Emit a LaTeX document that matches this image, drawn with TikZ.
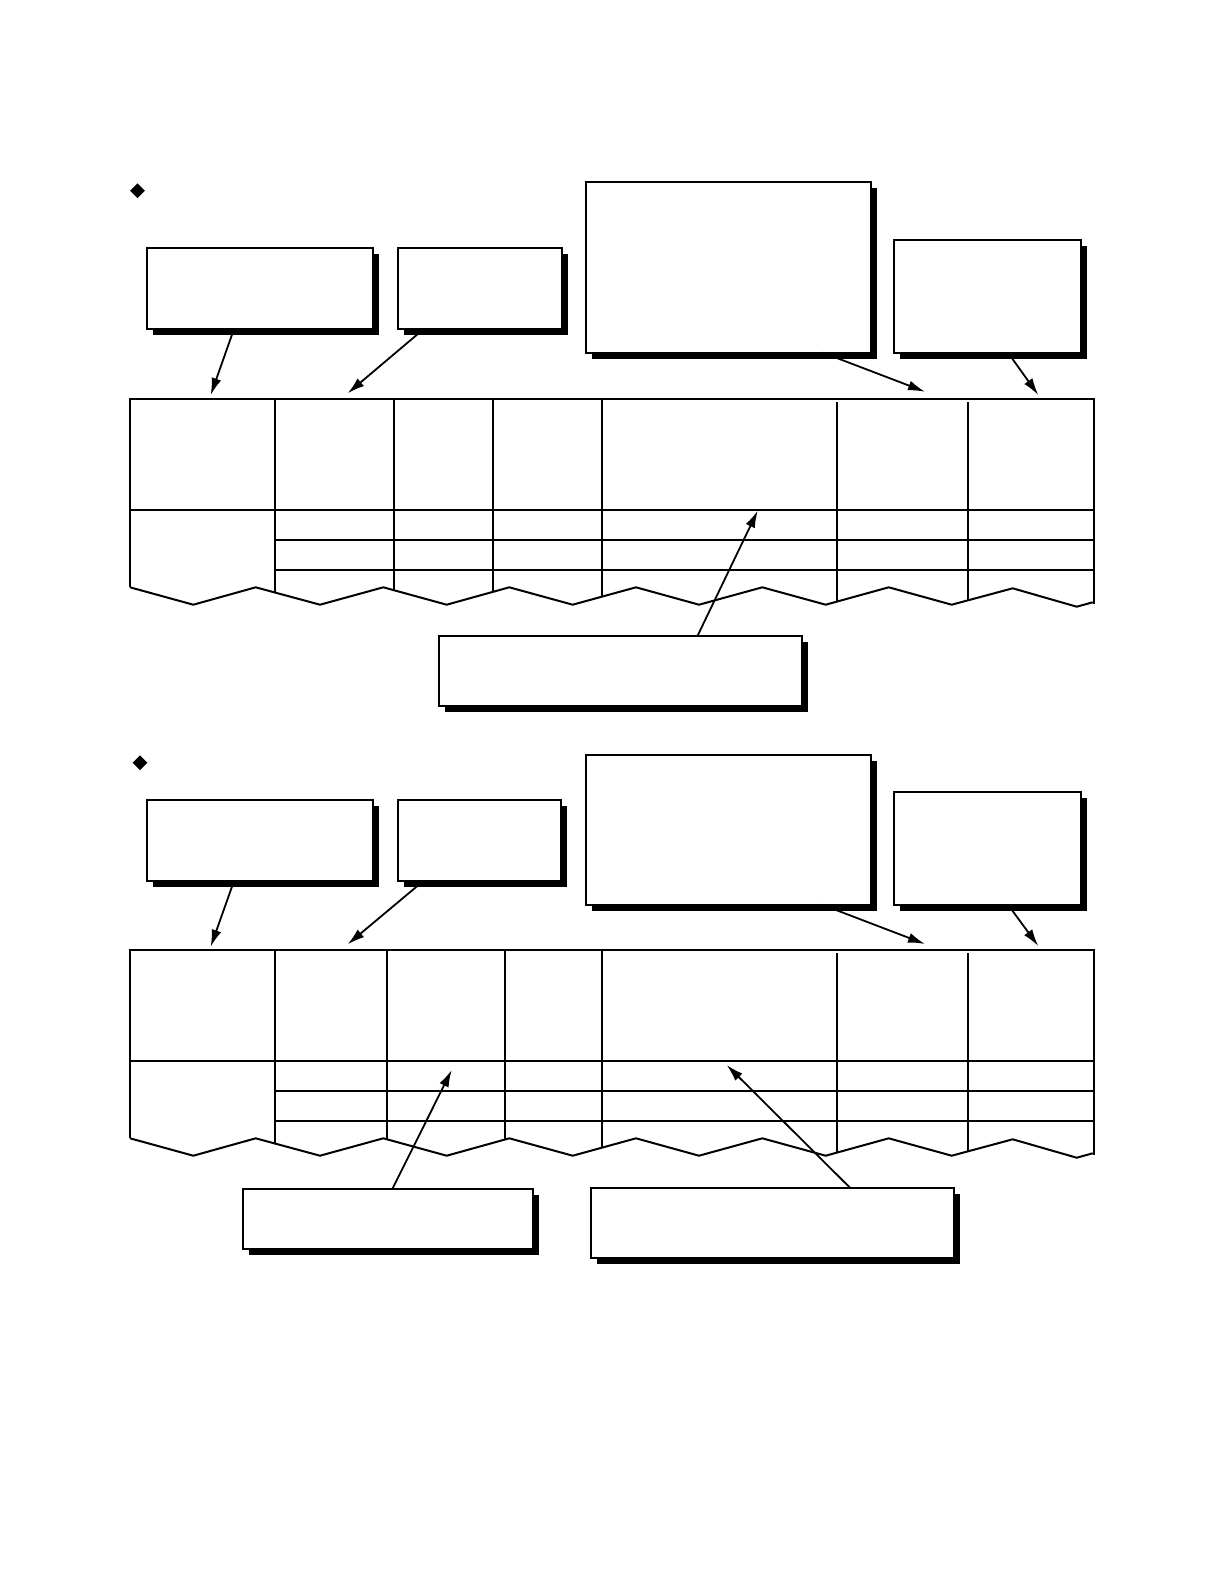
\documentclass[tikz,border=0pt]{standalone}
\usetikzlibrary{arrows.meta,shapes.geometric,shadows,fit}
\tikzset{
  box/.style={draw, line width=1pt, fill=white, inner sep=0pt, outer sep=0pt,
    drop shadow={shadow xshift=3pt, shadow yshift=-3pt, opacity=1, fill=black}},
  tline/.style={line width=1pt, line join=miter},
  arr/.style={line width=0.9pt, -{Latex[length=8.5pt,width=5pt]}},
  bullet/.style={diamond, fill=black, inner sep=0pt, minimum width=7.5pt, minimum height=7.5pt}
}
\newcommand\ztable[2]{%
  \begin{scope}
    \clip (130,399) -- (1093.7,399) -- (1093.7,602.3) -- (1076.7,606.7) -- (1012.7,588.3)
      -- (951.7,604.7) -- (888.7,587.3) -- (825.7,604.7) -- (762.3,587.3) -- (699,604.7)
      -- (636,587.3) -- (572.7,604.7) -- (509.3,587.3) -- (446.7,604.7) -- (383.3,587.3)
      -- (320,604.7) -- (255.7,587.3) -- (193.3,604.7) -- (130,587.3) -- cycle;
    \draw[tline] (275,399) -- (275,620) (#1,399) -- (#1,620) (#2,399) -- (#2,620)
      (601.7,399) -- (601.7,620) (836.7,402) -- (836.7,620) (968,402) -- (968,620);
    \draw[tline] (275,540) -- (1093.7,540) (275,569.7) -- (1093.7,569.7);
  \end{scope}
  \draw[tline] (130,587.3) -- (130,399) -- (1093.7,399) -- (1093.7,604);
  \draw[tline] (130,509.7) -- (1093.7,509.7);
  \draw[tline] (130,587.3) -- (193.3,604.7) -- (255.7,587.3) -- (320,604.7) -- (383.3,587.3)
    -- (446.7,604.7) -- (509.3,587.3) -- (572.7,604.7) -- (636,587.3) -- (699,604.7)
    -- (762.3,587.3) -- (825.7,604.7) -- (888.7,587.3) -- (951.7,604.7) -- (1012.7,588.3)
    -- (1076.7,606.7) -- (1092.7,602.3);
}
\begin{document}
\begin{tikzpicture}[x=0.5pt, y=-0.5pt]
  \useasboundingbox[fill=white] (0,0) rectangle (1224,1584);

  % ---------- section 1 ----------
  \node[bullet] (m1) at (137.5,190.7) {};
  \node[box, fit={(146.7,247.7) (373.3,328.7)}] (A1) {};
  \node[box, fit={(397.7,247.7) (561.7,328.7)}] (B1) {};
  \node[box, fit={(585.7,182) (871,352.7)}] (D1) {};
  \node[box, fit={(894,239.7) (1081,352.7)}] (E1) {};
  \node[box, fit={(439,635.7) (801.7,706)}] (C1) {};

  \ztable{394}{493}

  \coordinate (t1a) at (210.7,395);
  \coordinate (t1b) at (347.7,393.3);
  \coordinate (t1d) at (925,391.7);
  \coordinate (t1e) at (1038.3,395);
  \coordinate (t1c) at (757.7,510.7);

  \draw[arr] ([xshift=43.7pt]A1.south west) -- (t1a);
  \draw[arr] ([xshift=13.2pt]B1.south west) -- (t1b);
  \draw[arr] ([xshift=118.6pt]D1.south west) -- (t1d);
  \draw[arr] ([xshift=57pt]E1.south west) -- (t1e);
  \draw[arr] ([xshift=129.3pt]C1.north west) -- (t1c);

  % ---------- section 2 ----------
  \node[bullet] (m2) at (140,762.7) {};
  \node[box, fit={(146.7,800) (373.3,880.7)}] (A2) {};
  \node[box, fit={(397.7,800) (561,880.7)}] (B2) {};
  \node[box, fit={(585.7,755) (871,904.7)}] (D2) {};
  \node[box, fit={(894,792) (1081,904.7)}] (E2) {};
  \node[box, fit={(242.7,1189) (533.3,1249.3)}] (F2) {};
  \node[box, fit={(591,1187.7) (954,1258.3)}] (G2) {};

  \begin{scope}[yshift=-275.5pt]
    \ztable{386.7}{505}
  \end{scope}

  \coordinate (t2a) at (210.7,946.7);
  \coordinate (t2b) at (347.7,944.3);
  \coordinate (t2d) at (925,944);
  \coordinate (t2e) at (1038.3,946);
  \coordinate (t2f) at (451.7,1070);
  \coordinate (t2g) at (726.7,1065);

  \draw[arr] ([xshift=43.7pt]A2.south west) -- (t2a);
  \draw[arr] ([xshift=13pt]B2.south west) -- (t2b);
  \draw[arr] ([xshift=118.2pt]D2.south west) -- (t2d);
  \draw[arr] ([xshift=57pt]E2.south west) -- (t2e);
  \draw[arr] ([xshift=74.8pt]F2.north west) -- (t2f);
  \draw[arr] ([xshift=129.5pt]G2.north west) -- (t2g);
\end{tikzpicture}
\end{document}
